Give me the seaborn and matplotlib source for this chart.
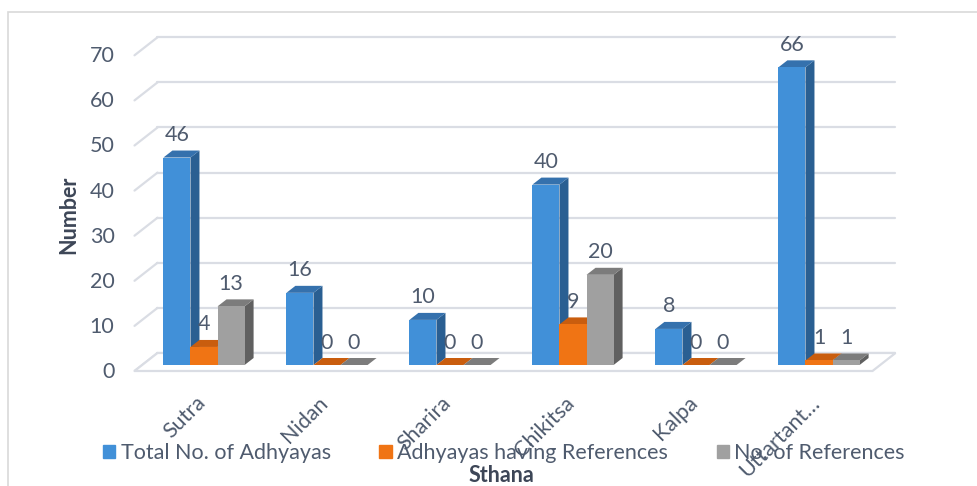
import matplotlib.pyplot as plt
import matplotlib.patches as mpatches
import matplotlib.transforms as mtransforms
import pandas as pd
import seaborn as sns

# chart data
sthana = ["Sutra", "Nidan", "Sharira", "Chikitsa", "Kalpa", "Uttartant…"]
series_names = ["Total No. of Adhyayas", "Adhyayas having References", "No. of References"]
total_adhyayas = [46, 16, 10, 40, 8, 66]
adhyayas_with_refs = [4, 0, 0, 9, 0, 1]
num_references = [13, 0, 0, 20, 0, 1]
y_ticks = [0, 10, 20, 30, 40, 50, 60, 70]

front_colors = ["#4190d8", "#f07414", "#a0a0a0"]
side_colors = ["#2a5f92", "#b04f08", "#606060"]
top_colors = ["#3571ad", "#c95d0e", "#7c7c7c"]
text_color = "#4f5b6e"
title_color = "#3d4657"
grid_color = "#dadde4"
FS = 15.5

# pseudo-3d offsets in pixels (x, y up), relative to the bar front plane
BAR_DEPTH = (9, 7)
BACK = (15, 12)
FRONT = (-8, -6)

df = pd.DataFrame({
    "Sthana": sthana * 3,
    "Series": [name for name in series_names for _ in sthana],
    "Number": total_adhyayas + adhyayas_with_refs + num_references,
})

sns.set_theme(style="white")
plt.rcParams["font.family"] = ["Lato", "DejaVu Sans"]

fig = plt.figure(figsize=(9.78, 4.86), dpi=100)
ax = fig.add_axes([142.5 / 978, (486 - 365) / 486, 738 / 978, 315.7 / 486])
ax.set_facecolor("none")

sns.barplot(
    data=df, x="Sthana", y="Number", hue="Series",
    order=sthana, hue_order=series_names, palette=front_colors,
    width=0.66, saturation=1, linewidth=0, legend=False, ax=ax, zorder=3,
)
ax.set_xlim(-0.5, 5.5)
ax.set_ylim(0, 70)
sns.despine(ax=ax, left=True, bottom=True)

# pixels per data unit
p0 = ax.transData.transform((0, 0))
p1 = ax.transData.transform((1, 1))
sx, sy = p1 - p0


def off(x, y, o):
    return (x + o[0] / sx, y + o[1] / sy)


xl, xr = ax.get_xlim()

# back wall grid + left wall diagonals
for v in y_ticks:
    a = off(xl, v, BACK)
    b = off(xr, v, BACK)
    ax.plot([a[0], b[0]], [a[1], b[1]], color=grid_color, lw=1.6, clip_on=False, zorder=1)
    f = off(xl, v, FRONT)
    ax.plot([f[0], a[0]], [f[1], a[1]], color=grid_color, lw=1.6, clip_on=False, zorder=1)
    lab = off(xl, v, (-28, -7))
    ax.text(lab[0], lab[1], str(v), ha="right", va="center", fontsize=FS,
            color=text_color, clip_on=False)

# floor
floor = [off(xl, 0, FRONT), off(xr, 0, FRONT), off(xr, 0, BACK), off(xl, 0, BACK)]
ax.add_patch(mpatches.Polygon(floor, closed=True, facecolor="white", edgecolor=grid_color,
                              lw=1.6, clip_on=False, zorder=1.5))

# side and top faces derived from the seaborn bars
ddx, ddy = BAR_DEPTH[0] / sx, BAR_DEPTH[1] / sy
for i, cont in enumerate(ax.containers):
    for rect in cont:
        x0, w, h = rect.get_x(), rect.get_width(), rect.get_height()
        side = [(x0 + w, 0), (x0 + w + ddx, ddy), (x0 + w + ddx, h + ddy), (x0 + w, h)]
        top = [(x0, h), (x0 + ddx, h + ddy), (x0 + w + ddx, h + ddy), (x0 + w, h)]
        ax.add_patch(mpatches.Polygon(side, closed=True, facecolor=side_colors[i],
                                      edgecolor="none", clip_on=False, zorder=2))
        ax.add_patch(mpatches.Polygon(top, closed=True, facecolor=top_colors[i],
                                      edgecolor="none", clip_on=False, zorder=2.5))
    ax.bar_label(cont, padding=9, fontsize=FS, color=text_color, zorder=4)

ax.set_yticks([])
ax.set_ylabel("Number", fontsize=FS, fontweight="bold", color=title_color)
ax.yaxis.set_label_coords(-0.086, 0.475)

ax.set_xticks(range(len(sthana)))
ax.set_xticklabels(sthana, rotation=45, ha="right", va="top", rotation_mode="anchor",
                   fontsize=FS, color=text_color)
ax.tick_params(axis="x", length=0, pad=20)
shift = mtransforms.ScaledTranslation(-9 / 100, 0, fig.dpi_scale_trans)
for lbl in ax.get_xticklabels():
    lbl.set_transform(lbl.get_transform() + shift)
ax.set_xlabel("Sthana", fontsize=FS, fontweight="bold", color=title_color)
ax.xaxis.set_label_coords(0.486, -0.318)

handles = [mpatches.Patch(color=c, label=n) for c, n in zip(front_colors, series_names)]
fig.legend(
    handles=handles, loc="center left", bbox_to_anchor=(103 / 978, 1 - 453 / 486),
    ncol=3, frameon=False, fontsize=FS, handlelength=0.58, handleheight=0.58,
    handletextpad=0.25, columnspacing=2.25, borderpad=0, borderaxespad=0,
    labelcolor=text_color,
)

# chart area border (only top and left visible in the crop)
fig.add_artist(mpatches.Rectangle((8 / 978, -0.5), 2, 0.5 + 1 - 12 / 486,
                                  transform=fig.transFigure, fill=False,
                                  edgecolor="#d9d9d9", lw=1.2))

fig.savefig("out.png", dpi=100, facecolor="white")
plt.close(fig)
